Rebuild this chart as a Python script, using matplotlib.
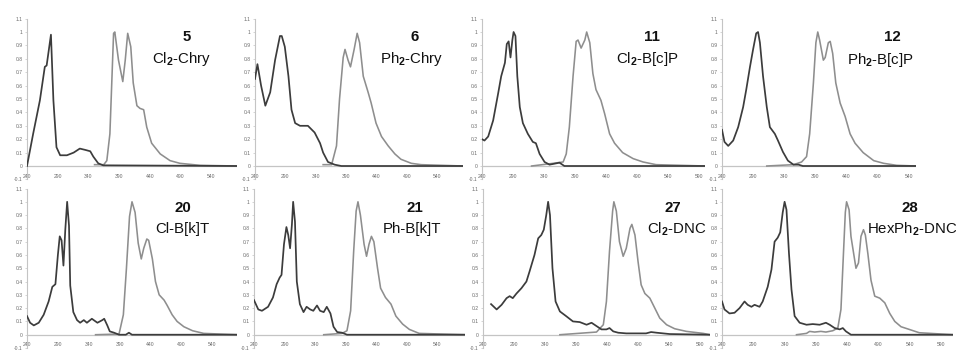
import matplotlib
matplotlib.use("Agg")
import matplotlib.pyplot as plt

plt.rcParams['font.family'] = ['Liberation Sans', 'DejaVu Sans']
plt.rcParams['mathtext.fontset'] = 'custom'
plt.rcParams['mathtext.rm'] = 'Liberation Sans'
plt.rcParams['mathtext.bf'] = 'Liberation Sans:bold'

# ---------------- data ----------------
compound_ids = ["5", "6", "11", "12", "20", "21", "27", "28"]
compound_names = [r"Cl$_\mathbf{2}$-Chry", r"Ph$_\mathbf{2}$-Chry", r"Cl$_\mathbf{2}$-B[c]P",
                  r"Ph$_\mathbf{2}$-B[c]P", "Cl-B[k]T", "Ph-B[k]T", r"Cl$_\mathbf{2}$-DNC",
                  r"HexPh$_\mathbf{2}$-DNC"]

x_tick_values = [240, 290, 340, 390, 440, 490, 540, 590]
y_tick_values = [-0.1, 0, 0.1, 0.2, 0.3, 0.4, 0.5, 0.6, 0.7, 0.8, 0.9, 1, 1.1]
y_tick_labels = ["-0.1", "0", "0.1", "0.2", "0.3", "0.4", "0.5", "0.6", "0.7", "0.8", "0.9", "1", "1.1"]

# 5  Cl2-Chry
abs_wl_5 = [240, 250, 261, 269, 272, 279, 283, 288, 294, 305, 316, 326, 335, 343, 348, 356, 364, 582]
abs_5 = [0.0, 0.24, 0.49, 0.74, 0.75, 0.98, 0.49, 0.14, 0.08, 0.08, 0.10, 0.13, 0.12, 0.11, 0.07, 0.02, 0.005, 0.0]
em_wl_5 = [350, 365, 370, 375, 381, 383, 389, 396, 400, 404, 409, 413, 419, 424, 430, 435, 443, 457, 473, 489, 522, 582]
em_5 = [0.01, 0.01, 0.04, 0.24, 0.99, 1.0, 0.79, 0.63, 0.79, 0.99, 0.89, 0.62, 0.45, 0.43, 0.42, 0.29, 0.17, 0.09, 0.04, 0.02, 0.005, 0.0]

# 6  Ph2-Chry
abs_wl_6 = [240, 244, 250, 257, 265, 273, 281, 284, 289, 295, 300, 306, 314, 327, 338, 347, 352, 360, 371, 382, 582]
abs_6 = [0.65, 0.76, 0.60, 0.45, 0.55, 0.79, 0.97, 0.97, 0.89, 0.67, 0.42, 0.32, 0.30, 0.30, 0.25, 0.17, 0.10, 0.03, 0.01, 0.0, 0.0]
em_wl_6 = [352, 366, 374, 379, 385, 388, 393, 397, 403, 408, 412, 418, 426, 431, 439, 448, 459, 470, 480, 497, 513, 582]
em_6 = [0.01, 0.01, 0.15, 0.50, 0.81, 0.87, 0.79, 0.74, 0.87, 0.99, 0.92, 0.67, 0.55, 0.47, 0.32, 0.22, 0.15, 0.09, 0.05, 0.02, 0.01, 0.0]

# 11  Cl2-B[c]P
abs_wl_11 = [240, 244, 250, 258, 266, 271, 277, 280, 283, 286, 289, 291, 294, 297, 301, 306, 314, 322, 327,
             333, 341, 349, 360, 365, 373, 600]
abs_11 = [0.20, 0.19, 0.22, 0.34, 0.54, 0.67, 0.77, 0.91, 0.93, 0.81, 0.94, 1.0, 0.97, 0.67, 0.44, 0.32, 0.24,
          0.18, 0.17, 0.09, 0.03, 0.01, 0.02, 0.025, 0.0, 0.0]
em_wl_11 = [320, 355, 371, 376, 381, 387, 392, 395, 400, 406, 409, 414, 419, 424, 432, 438, 446, 454, 467,
            484, 500, 521, 600]
em_11 = [0.0, 0.02, 0.03, 0.09, 0.29, 0.67, 0.93, 0.94, 0.88, 0.94, 1.0, 0.92, 0.69, 0.57, 0.49, 0.39, 0.24,
         0.17, 0.10, 0.055, 0.03, 0.01, 0.0]

# 12  Ph2-B[c]P
abs_wl_12 = [240, 244, 250, 258, 266, 274, 279, 285, 290, 295, 298, 301, 306, 312, 317, 325, 330, 338, 346,
             355, 363, 370, 552]
abs_12 = [0.27, 0.18, 0.15, 0.19, 0.29, 0.44, 0.57, 0.74, 0.87, 0.99, 1.0, 0.92, 0.67, 0.44, 0.29, 0.24, 0.19,
          0.105, 0.04, 0.01, 0.01, 0.0, 0.0]
em_wl_12 = [312, 355, 368, 376, 381, 387, 391, 394, 397, 403, 406, 411, 414, 418, 423, 430, 438, 446, 454,
            467, 484, 500, 521, 552]
em_12 = [0.0, 0.01, 0.03, 0.07, 0.24, 0.62, 0.92, 1.0, 0.94, 0.79, 0.81, 0.92, 0.93, 0.84, 0.62, 0.47, 0.37,
         0.24, 0.17, 0.10, 0.04, 0.02, 0.005, 0.0]

# 20  Cl-B[k]T
abs_wl_20 = [240, 245, 251, 259, 267, 275, 281, 286, 290, 293, 296, 299, 302, 305, 308, 310, 315, 321, 326,
             332, 337, 345, 354, 362, 365, 370, 374, 381, 389, 400, 405, 410, 580]
abs_20 = [0.14, 0.09, 0.07, 0.09, 0.15, 0.25, 0.36, 0.38, 0.60, 0.74, 0.71, 0.52, 0.79, 1.0, 0.82, 0.37, 0.17,
          0.11, 0.09, 0.11, 0.09, 0.12, 0.09, 0.11, 0.12, 0.07, 0.025, 0.015, 0.0, 0.0, 0.015, 0.0, 0.0]
em_wl_20 = [351, 389, 396, 401, 406, 410, 415, 420, 425, 429, 434, 437, 443, 448, 454, 462, 467, 475, 483,
            494, 508, 526, 580]
em_20 = [0.0, 0.005, 0.15, 0.50, 0.89, 1.0, 0.92, 0.69, 0.57, 0.65, 0.72, 0.71, 0.57, 0.40, 0.30, 0.26, 0.22,
         0.15, 0.10, 0.06, 0.03, 0.01, 0.0]

# 21  Ph-B[k]T
abs_wl_21 = [240, 247, 253, 263, 271, 277, 282, 285, 289, 293, 296, 299, 302, 304, 307, 310, 315, 321, 326,
             332, 337, 343, 348, 354, 359, 365, 370, 376, 384, 392, 585]
abs_21 = [0.26, 0.19, 0.18, 0.21, 0.28, 0.38, 0.43, 0.45, 0.68, 0.81, 0.75, 0.65, 0.83, 1.0, 0.85, 0.40, 0.23,
          0.17, 0.21, 0.19, 0.18, 0.22, 0.18, 0.17, 0.21, 0.16, 0.06, 0.02, 0.015, 0.0, 0.0]
em_wl_21 = [354, 384, 392, 398, 403, 407, 410, 414, 420, 424, 428, 432, 436, 442, 447, 455, 464, 472, 483,
            494, 510, 585]
em_21 = [0.0, 0.01, 0.03, 0.18, 0.63, 0.93, 1.0, 0.90, 0.68, 0.59, 0.68, 0.74, 0.70, 0.50, 0.35, 0.28, 0.23,
         0.14, 0.08, 0.04, 0.01, 0.0]

# 27  Cl2-DNC
abs_wl_27 = [253, 262, 270, 278, 283, 288, 294, 302, 310, 315, 323, 329, 334, 338, 342, 345, 348, 352, 357,
             364, 374, 385, 396, 407, 415, 423, 431, 439, 444, 450, 458, 471, 503, 511, 520, 541, 606]
abs_27 = [0.23, 0.19, 0.225, 0.275, 0.29, 0.275, 0.31, 0.35, 0.40, 0.475, 0.60, 0.725, 0.75, 0.79, 0.90, 1.0,
          0.90, 0.50, 0.25, 0.175, 0.14, 0.10, 0.095, 0.075, 0.09, 0.065, 0.04, 0.04, 0.05, 0.025, 0.015, 0.01,
          0.01, 0.02, 0.015, 0.005, 0.0]
em_wl_27 = [364, 423, 434, 439, 444, 449, 451, 455, 460, 466, 471, 477, 480, 485, 490, 495, 501, 509, 517,
            525, 536, 549, 568, 595, 606]
em_27 = [0.0, 0.02, 0.075, 0.25, 0.63, 0.93, 1.0, 0.93, 0.70, 0.59, 0.65, 0.80, 0.83, 0.75, 0.55, 0.375, 0.31,
         0.275, 0.20, 0.125, 0.075, 0.045, 0.025, 0.01, 0.0]

# 28  HexPh2-DNC
abs_wl_28 = [240, 244, 252, 260, 268, 276, 281, 287, 292, 300, 305, 313, 319, 324, 329, 333, 337, 340, 343,
             347, 351, 356, 364, 375, 385, 396, 406, 412, 420, 428, 433, 438, 446, 609]
abs_28 = [0.25, 0.19, 0.16, 0.165, 0.20, 0.25, 0.225, 0.21, 0.225, 0.21, 0.25, 0.36, 0.49, 0.70, 0.73, 0.77,
          0.92, 1.0, 0.94, 0.61, 0.34, 0.14, 0.09, 0.075, 0.08, 0.075, 0.09, 0.075, 0.05, 0.04, 0.05, 0.025,
          0.0, 0.0]
em_wl_28 = [359, 375, 380, 388, 398, 406, 417, 425, 430, 434, 437, 439, 443, 446, 451, 454, 458, 462, 466,
            469, 473, 478, 484, 492, 500, 508, 516, 526, 539, 555, 609]
em_28 = [0.0, 0.01, 0.025, 0.02, 0.025, 0.02, 0.03, 0.05, 0.19, 0.61, 0.92, 1.0, 0.94, 0.74, 0.59, 0.50, 0.54,
         0.74, 0.79, 0.75, 0.61, 0.41, 0.29, 0.275, 0.24, 0.16, 0.10, 0.06, 0.04, 0.015, 0.0]

panels = [
    (abs_wl_5, abs_5, em_wl_5, em_5),
    (abs_wl_6, abs_6, em_wl_6, em_6),
    (abs_wl_11, abs_11, em_wl_11, em_11),
    (abs_wl_12, abs_12, em_wl_12, em_12),
    (abs_wl_20, abs_20, em_wl_20, em_20),
    (abs_wl_21, abs_21, em_wl_21, em_21),
    (abs_wl_27, abs_27, em_wl_27, em_27),
    (abs_wl_28, abs_28, em_wl_28, em_28),
]

# ---------------- layout ----------------
W, H = 956, 351
x_max = [582, 582, 600, 552, 580, 585, 606, 609]
left_px = [27, 255, 482, 722, 27, 254, 483, 722]
right_px = [237, 463, 705, 916, 237, 465, 710, 953]
row_top_px = [18.6, 188.5]
row_bot_px = [179.4, 348.0]
num_pos = [(187, 41), (415, 41), (652, 41), (892, 41), (183, 212), (415, 212), (673, 212), (910, 212)]
name_pos = [(182, 63), (412, 63), (647, 63), (880, 64), (182, 233), (412, 233), (677, 233), (912, 233)]

fig = plt.figure(figsize=(W / 100, H / 100), dpi=100)

abs_color = '#3c3c3c'
em_color = '#8e8e8e'
axis_color = '#c4c4c4'
tick_text_color = '#6a6a6a'

for i, (awl, ab, ewl, em) in enumerate(panels):
    row = i // 4
    l = left_px[i] / W
    w = (right_px[i] - left_px[i]) / W
    b = 1 - row_bot_px[row] / H
    h = (row_bot_px[row] - row_top_px[row]) / H
    ax = fig.add_axes([l, b, w, h])
    ax.axhline(0, color=axis_color, lw=0.9, zorder=1)
    ax.plot(ewl, em, color=em_color, lw=1.15, zorder=2)
    ax.plot(awl, ab, color=abs_color, lw=1.25, zorder=3)
    ax.set_xlim(240, x_max[i])
    ax.set_ylim(-0.1, 1.1)
    xt = [t for t in x_tick_values if t <= x_max[i]]
    ax.set_xticks(xt)
    ax.set_xticklabels([str(t) for t in xt])
    ax.set_yticks(y_tick_values)
    ax.set_yticklabels(y_tick_labels)
    for s in ['top', 'right', 'bottom']:
        ax.spines[s].set_visible(False)
    ax.spines['left'].set_color(axis_color)
    ax.spines['left'].set_linewidth(0.8)
    ax.tick_params(axis='x', length=0, pad=-4.2, labelsize=3.6, labelcolor=tick_text_color)
    ax.tick_params(axis='y', length=1.5, width=0.5, color=axis_color, pad=1.5, labelsize=3.6,
                   labelcolor=tick_text_color)
    ax.patch.set_visible(False)

for i in range(8):
    fig.text(num_pos[i][0] / W, 1 - num_pos[i][1] / H, compound_ids[i], ha='center', va='baseline',
             fontsize=10.8, fontweight='bold', color='#111111')
    fig.text(name_pos[i][0] / W, 1 - name_pos[i][1] / H, compound_names[i], ha='center', va='baseline',
             fontsize=10.8, color='#111111')

fig.savefig('out.png', dpi=100)
